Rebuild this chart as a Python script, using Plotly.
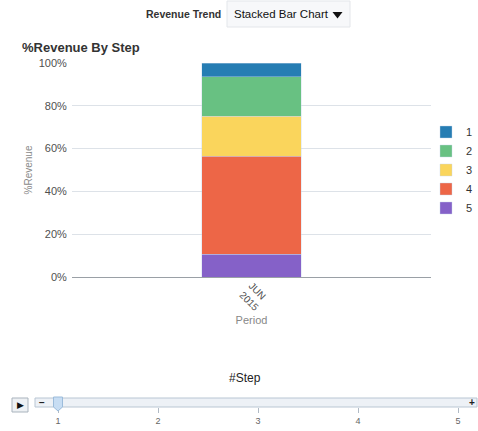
import plotly.graph_objects as go

W, H = 478, 431
def px(x): return x / W
def py(y): return 1 - y / H

periods = ["JUN<br>2015"]
steps = ["5", "4", "3", "2", "1"]
step_values = {
    "1": [6.4],
    "2": [18.4],
    "3": [18.7],
    "4": [45.8],
    "5": [10.7],
}
step_colors = {
    "1": "#267db3",
    "2": "#68c182",
    "3": "#fad55c",
    "4": "#ed6647",
    "5": "#8561c8",
}
y_ticks = [0, 20, 40, 60, 80, 100]
y_tick_labels = ["0%", "20%", "40%", "60%", "80%", "100%"]
slider_values = [1, 2, 3, 4, 5]
slider_labels = ["1", "2", "3", "4", "5"]
active_step = 1
chart_type = "Stacked Bar Chart"

FONT = "Liberation Sans, Arial, sans-serif"

fig = go.Figure()
for s in steps:
    fig.add_trace(go.Bar(
        x=periods, y=step_values[s], name=s,
        marker=dict(color=step_colors[s], line=dict(color="rgba(200,215,235,0.8)", width=0.5)),
        hovertemplate="%{y}%<extra>" + s + "</extra>",
    ))

# invisible trace to anchor the slider scale axis
fig.add_trace(go.Scatter(x=slider_values, y=[0.5] * len(slider_values), xaxis="x2", yaxis="y2",
                         mode="markers", marker=dict(opacity=0), showlegend=False,
                         hoverinfo="skip"))

# slider scale: value v sits at pixel 58 + 100*(v-1)
x2_range = [1 + (35 - 58) / 100, 1 + (477 - 58) / 100]

hw = 0.045
handle_path = (f"M {active_step - hw},{py(397)} L {active_step + hw},{py(397)} "
               f"L {active_step + hw},{py(407)} L {active_step},{py(411)} "
               f"L {active_step - hw},{py(407)} Z")
arrow_path = (f"M {px(332.5)},{py(12)} L {px(342.5)},{py(12)} L {px(337.5)},{py(18.5)} Z")

shapes = [
    # dropdown box
    dict(type="rect", xref="paper", yref="paper", x0=px(227), x1=px(350), y0=py(27), y1=py(1),
         fillcolor="#f7f8fa", line=dict(color="#e3e6ea", width=1), layer="below"),
    dict(type="path", xref="paper", yref="paper", path=arrow_path,
         fillcolor="#111111", line=dict(width=0)),
    # play button
    dict(type="rect", xref="paper", yref="paper", x0=px(12), x1=px(28), y0=py(412), y1=py(398),
         fillcolor="#eef1f4", line=dict(color="#a9b3bd", width=1)),
    # slider track
    dict(type="rect", xref="x2 domain", yref="y2 domain", x0=0, x1=1, y0=0, y1=1,
         fillcolor="#edf1f6", line=dict(color="#b9c6d3", width=1), layer="below"),
    # slider handle
    dict(type="path", xref="x2", yref="paper", path=handle_path,
         fillcolor="#c7ddf3", line=dict(color="#9cbcdb", width=1)),
]

fig.update_layout(
    width=W, height=H,
    margin=dict(l=0, r=0, t=0, b=0, autoexpand=False),
    paper_bgcolor="white", plot_bgcolor="white",
    font=dict(family=FONT, size=11, color="#4f4f4f"),
    barmode="stack", bargap=0.724,
    showlegend=True,
    legend=dict(x=px(426), xanchor="left", y=py(170), yanchor="middle",
                bgcolor="rgba(0,0,0,0)",
                font=dict(size=11, color="#333333"), traceorder="reversed",
                itemwidth=30, tracegroupgap=0),
    xaxis=dict(domain=[px(72), px(431)], showgrid=False, showline=False,
               tickangle=45, tickfont=dict(size=10, color="#4f4f4f"),
               title=dict(text="Period", font=dict(size=11, color="#888888"), standoff=4),
               fixedrange=True),
    yaxis=dict(domain=[py(277), py(63)], range=[0, 100], tickvals=y_ticks, ticktext=y_tick_labels,
               showgrid=True, gridcolor="#dde2e8", gridwidth=1,
               zeroline=True, zerolinecolor="#9aa0a6", zerolinewidth=1,
               ticks="outside", ticklen=2, tickcolor="rgba(0,0,0,0)",
               tickfont=dict(size=11, color="#4f4f4f"),
               title=dict(text="%Revenue", font=dict(size=10, color="#8a8a8a"), standoff=4),
               fixedrange=True),
    xaxis2=dict(domain=[px(35), px(477)], range=x2_range, anchor="y2",
                showgrid=False, zeroline=False, showline=False,
                tickvals=slider_values, ticktext=slider_labels,
                ticks="outside", ticklen=5, tickcolor="#b0bac5",
                tickfont=dict(size=9, color="#666666"), fixedrange=True),
    yaxis2=dict(domain=[py(407), py(398)], range=[0, 1], anchor="x2", visible=False,
                fixedrange=True),
    shapes=shapes,
    annotations=[
        dict(text="<b>%Revenue By Step</b>", x=px(20), y=py(47), xref="paper", yref="paper",
             xanchor="left", yanchor="middle", showarrow=False,
             font=dict(size=13, color="#333333")),
        dict(text="<b>Revenue Trend</b>", x=px(223), y=py(14), xref="paper", yref="paper",
             xanchor="right", yanchor="middle", showarrow=False,
             font=dict(size=10.5, color="#333333")),
        dict(text=chart_type, x=px(232), y=py(14), xref="paper", yref="paper",
             xanchor="left", yanchor="middle", showarrow=False,
             font=dict(size=11.5, color="#111111")),
        dict(text="▶", x=px(20), y=py(405), xref="paper", yref="paper",
             xanchor="center", yanchor="middle", showarrow=False,
             font=dict(size=9, color="#111111")),
        dict(text="<b>−</b>", x=px(42), y=py(402), xref="paper", yref="paper",
             xanchor="center", yanchor="middle", showarrow=False,
             font=dict(size=10, color="#222222")),
        dict(text="<b>+</b>", x=px(472), y=py(402), xref="paper", yref="paper",
             xanchor="center", yanchor="middle", showarrow=False,
             font=dict(size=10, color="#222222")),
        dict(text="#Step", x=px(245), y=py(378), xref="paper", yref="paper",
             xanchor="center", yanchor="middle", showarrow=False,
             font=dict(size=12, color="#222222")),
    ],
)

fig.write_html("out.html", config={"displayModeBar": False},
               post_script="document.body.style.margin='0';")
